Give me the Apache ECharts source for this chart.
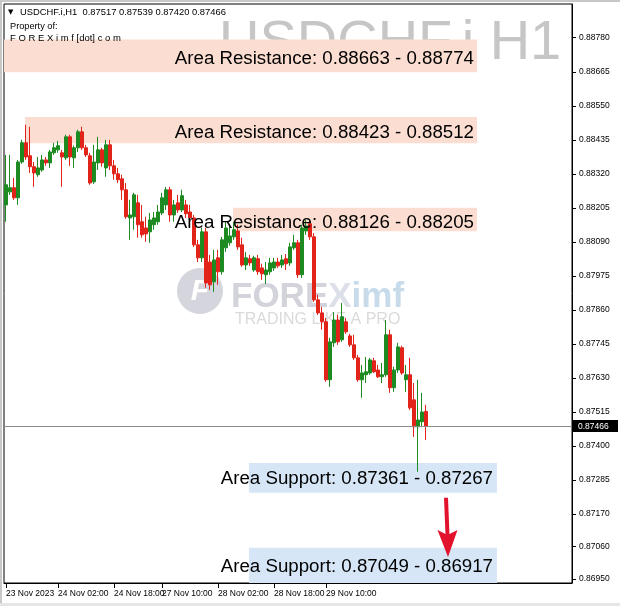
<!DOCTYPE html>
<html><head><meta charset="utf-8">
<script src="https://cdn.jsdelivr.net/npm/echarts@6/dist/echarts.min.js"></script>
<style>html,body{margin:0;padding:0;background:#fff}#c{width:620px;height:606px}</style>
</head><body><div id="c"></div>
<script>
// ---- data ----
const opens = [0.88215,0.88259,0.88273,0.88239,0.88360,0.88425,0.88381,0.88344,0.88317,0.88333,
0.88367,0.88357,0.88391,0.88401,0.88391,0.88374,0.88445,0.88374,0.88408,0.88462,
0.88408,0.88381,0.88293,0.88357,0.88401,0.88340,0.88418,0.88347,0.88320,0.88303,
0.88266,0.88171,0.88175,0.88222,0.88158,0.88137,0.88124,0.88148,0.88158,0.88188,
0.88215,0.88266,0.88181,0.88222,0.88198,0.88215,0.88191,0.88171,0.88080,0.88036,
0.88124,0.88022,0.87955,0.88036,0.87989,0.88070,0.88087,0.88107,0.88127,0.88080,
0.88012,0.88033,0.87995,0.88033,0.88002,0.87979,0.87989,0.88002,0.88022,0.88012,
0.88033,0.88019,0.88070,0.88087,0.87979,0.88127,0.88151,0.88107,0.87894,0.87850,
0.87820,0.87624,0.87749,0.87826,0.87759,0.87820,0.87772,0.87742,0.87698,0.87624,
0.87641,0.87647,0.87688,0.87657,0.87634,0.87641,0.87776,0.87597,0.87657,0.87732,
0.87624,0.87641,0.87556,0.87465,0.87482,0.87517];
const closes = [0.88283,0.88273,0.88239,0.88360,0.88425,0.88377,0.88344,0.88323,0.88340,0.88367,
0.88357,0.88394,0.88408,0.88415,0.88377,0.88445,0.88377,0.88408,0.88462,0.88408,
0.88384,0.88289,0.88360,0.88401,0.88357,0.88418,0.88347,0.88320,0.88300,0.88266,
0.88175,0.88181,0.88249,0.88148,0.88114,0.88117,0.88164,0.88171,0.88191,0.88239,
0.88266,0.88181,0.88215,0.88198,0.88246,0.88185,0.88171,0.88080,0.88036,0.88124,
0.87951,0.87945,0.88029,0.87989,0.88097,0.88137,0.88110,0.88131,0.88073,0.88012,
0.88036,0.88019,0.88036,0.87989,0.87982,0.87995,0.88019,0.88022,0.88009,0.88029,
0.88016,0.88073,0.88087,0.87979,0.88137,0.88144,0.88107,0.87894,0.87850,0.87820,
0.87624,0.87752,0.87826,0.87752,0.87837,0.87786,0.87742,0.87698,0.87624,0.87647,
0.87651,0.87691,0.87651,0.87634,0.87641,0.87776,0.87597,0.87657,0.87735,0.87647,
0.87641,0.87529,0.87465,0.87488,0.87515,0.87466];
const highs = [0.88384,0.88384,0.88306,0.88367,0.88435,0.88486,0.88479,0.88360,0.88377,0.88384,
0.88377,0.88401,0.88425,0.88431,0.88401,0.88452,0.88452,0.88415,0.88469,0.88479,
0.88418,0.88391,0.88418,0.88445,0.88408,0.88435,0.88435,0.88367,0.88340,0.88317,
0.88289,0.88232,0.88256,0.88249,0.88215,0.88175,0.88188,0.88191,0.88215,0.88256,
0.88276,0.88276,0.88232,0.88249,0.88266,0.88232,0.88215,0.88181,0.88097,0.88137,
0.88137,0.88046,0.88063,0.88063,0.88107,0.88158,0.88148,0.88158,0.88148,0.88104,
0.88056,0.88046,0.88043,0.88046,0.88016,0.88022,0.88036,0.88036,0.88036,0.88046,
0.88049,0.88087,0.88114,0.88097,0.88148,0.88164,0.88164,0.88120,0.87911,0.87870,
0.87833,0.87766,0.87853,0.87843,0.87884,0.87833,0.87779,0.87776,0.87708,0.87674,
0.87701,0.87698,0.87698,0.87674,0.87681,0.87826,0.87793,0.87668,0.87749,0.87739,
0.87674,0.87698,0.87613,0.87624,0.87580,0.87539];
const lows = [0.88158,0.88249,0.88232,0.88215,0.88354,0.88367,0.88323,0.88276,0.88310,0.88327,
0.88347,0.88340,0.88384,0.88391,0.88276,0.88367,0.88347,0.88340,0.88394,0.88401,
0.88377,0.88283,0.88286,0.88333,0.88344,0.88310,0.88333,0.88300,0.88289,0.88232,
0.88168,0.88097,0.88131,0.88104,0.88104,0.88090,0.88087,0.88131,0.88148,0.88181,
0.88198,0.88158,0.88158,0.88188,0.88191,0.88171,0.88158,0.88073,0.88022,0.88022,
0.87935,0.87928,0.87921,0.87945,0.87979,0.88056,0.88077,0.88097,0.88063,0.88006,
0.87995,0.88009,0.87989,0.87979,0.87962,0.87948,0.87979,0.87992,0.88002,0.88002,
0.87995,0.88009,0.88063,0.87968,0.87968,0.88114,0.88097,0.87887,0.87843,0.87793,
0.87617,0.87600,0.87735,0.87742,0.87752,0.87779,0.87735,0.87691,0.87617,0.87563,
0.87613,0.87641,0.87647,0.87630,0.87613,0.87634,0.87580,0.87583,0.87647,0.87641,
0.87583,0.87522,0.87431,0.87313,0.87465,0.87420];

const categoryCount = 142;
const tickLabelIndex = [0, 13, 27, 39, 53, 67, 80];
const tickLabels = ["23 Nov 2023","24 Nov 02:00","24 Nov 18:00","27 Nov 10:00","28 Nov 02:00","28 Nov 18:00","29 Nov 10:00"];
const priceTicks = [0.88780,0.88665,0.88550,0.88435,0.88320,0.88205,0.88090,0.87975,0.87860,0.87745,0.87630,0.87515,0.87400,0.87285,0.87170,0.87060,0.86950];
const priceMin = 0.86937, priceMax = 0.88894;

// zones
const zoneText  = ["Area Resistance: 0.88663 - 0.88774","Area Resistance: 0.88423 - 0.88512","Area Resistance: 0.88126 - 0.88205","Area Support: 0.87361 - 0.87267","Area Support: 0.87049 - 0.86917"];
const zoneKind  = ["R","R","R","S","S"];
const zoneHigh  = [0.88774, 0.88512, 0.88205, 0.87343, 0.87056];
const zoneLow   = [0.88663, 0.88423, 0.88126, 0.87242, 0.86917];
const zoneStart = [-0.5, 4.75, 56.75, 60.75, 60.75];
const zoneEnd   = [117.75, 117.75, 117.75, 122.75, 122.75];
const zoneTextEnd = [117, 117, 117, 121.75, 121.75];

const lastPrice = 0.87466;
const arrowBar = 110;
const arrowFrom = 0.87225, arrowTo = 0.87025;

const header = "USDCHF.i,H1  0.87517 0.87539 0.87420 0.87466";

// ---- chart ----
const categories = Array.from({length: categoryCount}, (_, i) => String(i));
const candleData = opens.map((o, i) => [o, closes[i], lows[i], highs[i]]);
const FONT = "'Liberation Sans', Arial, sans-serif";

function xOf(api, v) {
  const f = Math.floor(v);
  const bw = api.size([1, 0])[0];
  return api.coord([f, priceMin])[0] + (v - f) * bw;
}
function mid(o) { return Object.assign({textVerticalAlign: 'middle', verticalAlign: 'middle'}, o); }

const chart = echarts.init(document.getElementById('c'), null, {renderer: 'canvas'});
chart.setOption({
  animation: false,
  backgroundColor: '#ffffff',
  grid: {left: 4, right: 48, top: 4, bottom: 23, show: true, borderColor: '#000', borderWidth: 1, backgroundColor: 'transparent', outerBoundsMode: 'none'},
  xAxis: {
    type: 'category', data: categories, boundaryGap: true,
    axisLine: {show: true, lineStyle: {color: '#000', width: 1}},
    axisTick: {show: true, alignWithLabel: true, length: 5, interval: (i) => tickLabelIndex.includes(i), lineStyle: {color: '#000'}},
    axisLabel: {
      interval: (i) => tickLabelIndex.includes(i),
      formatter: (v, i) => { const k = tickLabelIndex.indexOf(i); return k >= 0 ? tickLabels[k] : ''; },
      align: 'left', margin: 6, color: '#000', fontSize: 8.5, fontFamily: FONT
    },
    splitLine: {show: false}
  },
  yAxis: {
    type: 'value', position: 'right', min: priceMin, max: priceMax, scale: true,
    axisLine: {show: true, lineStyle: {color: '#000', width: 1}},
    axisTick: {show: true, length: 4, customValues: priceTicks, lineStyle: {color: '#000'}},
    axisLabel: {customValues: priceTicks, formatter: (v) => v.toFixed(5), margin: 7, color: '#000', fontSize: 8.5, fontFamily: FONT},
    splitLine: {show: false}
  },
  graphic: [
    {type: 'rect', z: 0, shape: {x: 0, y: 0, width: 2, height: 606}, style: {fill: '#c8c8c8'}},
    {type: 'rect', z: 0, shape: {x: 0, y: 0, width: 620, height: 2}, style: {fill: '#c8c8c8'}},
    {type: 'rect', z: 0, shape: {x: 0, y: 603, width: 620, height: 3}, style: {fill: '#e6e6e6'}},
    {type: 'text', z: 0, x: 219, y: 44, style: mid({text: 'USDCHF.i H1', fill: '#c6c6c6', font: '56px ' + FONT})},
    {type: 'circle', z: 0, shape: {cx: 200, cy: 291, r: 23}, style: {fill: '#d5d5dd'}},
    {type: 'text', z: 0, x: 200, y: 292, style: mid({text: 'F', fill: '#ffffff', font: 'italic bold 30px ' + FONT, textAlign: 'center', align: 'center'})},
    {type: 'text', z: 0, x: 231, y: 297, style: mid({
      text: '{a|FORE}{b|X}{c|imf}',
      rich: {a: {fill: '#d3d3db', color: '#d3d3db', font: 'bold 35px ' + FONT},
             b: {fill: '#dde0e8', color: '#dde0e8', font: 'bold 35px ' + FONT},
             c: {fill: '#c8dbeb', color: '#c8dbeb', font: 'bold 35px ' + FONT}}
    })},
    {type: 'text', z: 0, x: 235, y: 320, style: mid({text: 'TRADING LIKE A PRO', fill: '#dadada', font: '16px ' + FONT})},
    {type: 'text', z: 10, x: 8, y: 12, style: mid({text: '▼', fill: '#000', font: '7px DejaVu Sans'})},
    {type: 'text', z: 10, x: 20, y: 12, style: mid({text: header, fill: '#000', font: '9.4px ' + FONT})},
    {type: 'text', z: 10, x: 10, y: 26, style: mid({text: 'Property of:', fill: '#000', font: '9.2px ' + FONT})},
    {type: 'text', z: 10, x: 10, y: 38, style: mid({text: 'F O R E X i m f [dot] c o m', fill: '#000', font: '9.5px ' + FONT})}
  ],
  series: [
    {
      type: 'custom', z: 1, silent: true,
      encode: {x: [0, 1], y: [2, 3]},
      data: zoneLow.map((v, i) => [zoneStart[i], zoneEnd[i], zoneLow[i], zoneHigh[i]]),
      renderItem(params, api) {
        const i = params.dataIndex;
        const cs = params.coordSys;
        const x1 = Math.max(xOf(api, zoneStart[i]), cs.x);
        const x2 = xOf(api, zoneEnd[i]);
        const y1 = Math.max(api.coord([0, zoneHigh[i]])[1], cs.y);
        const y2 = Math.min(api.coord([0, zoneLow[i]])[1], cs.y + cs.height);
        return {type: 'rect', shape: {x: x1, y: y1, width: x2 - x1, height: y2 - y1},
                style: {fill: zoneKind[i] === 'R' ? '#fbded1' : '#d6e6f6'}};
      }
    },
    {
      type: 'candlestick', z: 2, data: candleData, barWidth: 3,
      itemStyle: {color: '#1d8a22', color0: '#e2231a', borderColor: '#1d8a22', borderColor0: '#e2231a', borderWidth: 1}
    },
    {
      // current price line + price tag on the axis
      type: 'custom', z: 3, silent: true,
      encode: {y: 0},
      data: [[lastPrice]],
      renderItem(params, api) {
        const cs = params.coordSys;
        const y = Math.round(api.coord([0, api.value(0)])[1]) + 0.5;
        const xr = cs.x + cs.width;
        return {type: 'group', children: [
          {type: 'line', shape: {x1: cs.x, y1: y, x2: xr, y2: y}, style: {stroke: '#8a8a8a', lineWidth: 1}},
          {type: 'rect', shape: {x: xr + 1, y: y - 6.5, width: 45, height: 12}, style: {fill: '#000'}},
          {type: 'text', x: xr + 6, y: y, style: mid({text: api.value(0).toFixed(5), fill: '#fff', font: '8.5px ' + FONT})}
        ]};
      }
    },
    {
      // red arrow between the support areas
      type: 'custom', z: 4, silent: true,
      encode: {x: 0, y: [1, 2]},
      data: [[arrowBar, arrowFrom, arrowTo]],
      renderItem(params, api) {
        const p1 = api.coord([api.value(0), api.value(1)]);
        const p2 = api.coord([api.value(0), api.value(2)]);
        const x = p1[0], tip = p2[1];
        return {type: 'group', children: [
          {type: 'line', shape: {x1: x, y1: p1[1], x2: x + 1.5, y2: tip - 22}, style: {stroke: '#e3122c', lineWidth: 4}},
          {type: 'polygon', shape: {points: [[x - 8.5, tip - 27], [x + 1.5, tip - 22], [x + 11.5, tip - 27], [x + 2, tip]]}, style: {fill: '#e3122c'}}
        ]};
      }
    },
    {
      type: 'custom', z: 5, silent: true,
      encode: {x: 0, y: 1},
      data: zoneLow.map((v, i) => [zoneTextEnd[i], (zoneLow[i] + zoneHigh[i]) / 2]),
      renderItem(params, api) {
        const i = params.dataIndex;
        const cs = params.coordSys;
        const y1 = Math.max(api.coord([0, zoneHigh[i]])[1], cs.y);
        const y2 = Math.min(api.coord([0, zoneLow[i]])[1], cs.y + cs.height);
        const dy = zoneKind[i] === 'R' ? 3 : 1.5;
        return {type: 'text', x: xOf(api, zoneTextEnd[i]), y: (y1 + y2) / 2 + dy,
                style: mid({text: zoneText[i], fill: '#000', font: '18.7px ' + FONT, textAlign: 'right', align: 'right'})};
      }
    }
  ]
});
</script>
</body></html>
